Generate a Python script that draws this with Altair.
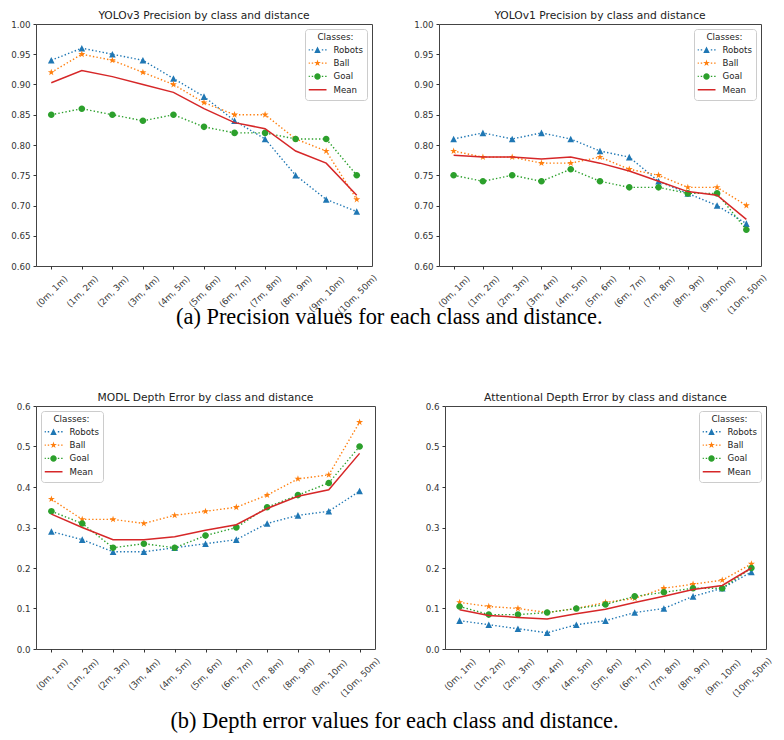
import altair as alt
import pandas as pd

categories = ["(0m, 1m)", "(1m, 2m)", "(2m, 3m)", "(3m, 4m)", "(4m, 5m)", "(5m, 6m)",
              "(6m, 7m)", "(7m, 8m)", "(8m, 9m)", "(9m, 10m)", "(10m, 50m)"]
series = ["Robots", "Ball", "Goal", "Mean"]
colors = ["#1f77b4", "#ff7f0e", "#2ca02c", "#d62728"]

# YOLOv3 precision
v3_robots = [0.94, 0.96, 0.95, 0.94, 0.91, 0.88, 0.84, 0.81, 0.75, 0.71, 0.69]
v3_ball = [0.92, 0.95, 0.94, 0.92, 0.90, 0.87, 0.85, 0.85, 0.81, 0.79, 0.71]
v3_goal = [0.85, 0.86, 0.85, 0.84, 0.85, 0.83, 0.82, 0.82, 0.81, 0.81, 0.75]
v3_mean = [0.903, 0.923, 0.913, 0.900, 0.887, 0.860, 0.837, 0.827, 0.790, 0.770, 0.717]

# YOLOv1 precision
v1_robots = [0.81, 0.82, 0.81, 0.82, 0.81, 0.79, 0.78, 0.74, 0.72, 0.70, 0.67]
v1_ball = [0.79, 0.78, 0.78, 0.77, 0.77, 0.78, 0.76, 0.75, 0.73, 0.73, 0.70]
v1_goal = [0.75, 0.74, 0.75, 0.74, 0.76, 0.74, 0.73, 0.73, 0.72, 0.72, 0.66]
v1_mean = [0.783, 0.780, 0.780, 0.777, 0.780, 0.770, 0.757, 0.740, 0.723, 0.717, 0.677]

# MODL depth error
modl_robots = [0.29, 0.27, 0.24, 0.24, 0.25, 0.26, 0.27, 0.31, 0.33, 0.34, 0.39]
modl_ball = [0.37, 0.32, 0.32, 0.31, 0.33, 0.34, 0.35, 0.38, 0.42, 0.43, 0.56]
modl_goal = [0.34, 0.31, 0.25, 0.26, 0.25, 0.28, 0.30, 0.35, 0.38, 0.41, 0.50]
modl_mean = [0.333, 0.300, 0.270, 0.270, 0.277, 0.293, 0.307, 0.347, 0.377, 0.393, 0.483]

# Attentional depth error
att_robots = [0.07, 0.06, 0.05, 0.04, 0.06, 0.07, 0.09, 0.10, 0.13, 0.15, 0.19]
att_ball = [0.115, 0.105, 0.10, 0.09, 0.10, 0.115, 0.125, 0.15, 0.16, 0.17, 0.21]
att_goal = [0.105, 0.085, 0.085, 0.09, 0.10, 0.11, 0.13, 0.14, 0.15, 0.15, 0.20]
att_mean = [0.097, 0.083, 0.078, 0.074, 0.087, 0.098, 0.115, 0.130, 0.147, 0.157, 0.200]

prec_ticks = [0.60, 0.65, 0.70, 0.75, 0.80, 0.85, 0.90, 0.95, 1.00]
depth_ticks = [0.0, 0.1, 0.2, 0.3, 0.4, 0.5, 0.6]

titles = ["YOLOv3 Precision by class and distance", "YOLOv1 Precision by class and distance",
          "MODL Depth Error by class and distance", "Attentional Depth Error by class and distance"]
captions = ["(a) Precision values for each class and distance.",
            "(b) Depth error values for each class and distance."]

FONT = "DejaVu Sans"


# ---- marker shapes (unit box [-1, 1]) ----
def tri(s):
    return f"M0,{-s}L{s},{s}L{-s},{s}Z"


def star(s):
    pts = [(0, -1), (0.2245, -0.309), (0.951, -0.309), (0.363, 0.118), (0.588, 0.809),
           (0, 0.382), (-0.588, 0.809), (-0.363, 0.118), (-0.951, -0.309), (-0.2245, -0.309)]
    return "M" + "L".join(f"{x * s:.3f},{y * s:.3f}" for x, y in pts) + "Z"


def circ(s):
    return f"M{-s},0A{s},{s} 0 1,1 {s},0A{s},{s} 0 1,1 {-s},0Z"


def dots():
    t = 0.075
    out = ""
    for cx in (-0.93, -0.56, 0.56, 0.93):
        out += f"M{cx - 0.08:.3f},{-t}H{cx + 0.08:.3f}V{t}H{cx - 0.08:.3f}Z"
    return out


marker_paths = [tri(1), star(1.1), circ(1)]
legend_paths = [dots() + tri(0.36), dots() + star(0.40), dots() + circ(0.36),
                "M-1,-0.08H1V0.08H-1Z"]


def long_df(vals):
    rows = []
    for s, arr in zip(series, vals):
        for i, c in enumerate(categories):
            rows.append({"dist": c, "series": s, "value": arr[i], "idx": i})
    return pd.DataFrame(rows)


def panel(vals, title, ydomain, yticks, yfmt, legend_orient, w, h):
    df = long_df(vals)
    base = alt.Chart(df)
    x = alt.X("dist:N", sort=categories, title=None,
              scale=alt.Scale(padding=0.5),
              axis=alt.Axis(labelAngle=-45, labelAlign="center", labelBaseline="middle",
                            labelPadding={"condition": {"test": "length(datum.label) >= 9", "value": 25},
                                          "value": 22},
                            labelOverlap=False, labelBound=False, labelFlush=False,
                            labelFont=FONT, labelFontSize=8.7, labelColor="#333",
                            tickSize=3, tickColor="#333", domain=False, grid=False))
    y = alt.Y("value:Q", title=None,
              scale=alt.Scale(domain=ydomain, nice=False, zero=False),
              axis=alt.Axis(values=yticks, format=yfmt, labelFont=FONT, labelFontSize=8.7,
                            labelColor="#333", labelPadding=3, tickSize=3, tickColor="#333",
                            domain=False, grid=False))
    layers = []
    for s, path, c in zip(series[:3], marker_paths, colors[:3]):
        sub = base.transform_filter(alt.datum.series == s)
        layers.append(sub.mark_line(strokeDash=[1.4, 2.2], strokeWidth=1.4, color=c).encode(
            x=x, y=y, order="idx:Q"))
        layers.append(sub.mark_point(shape=path, filled=True, size=44, opacity=1,
                                     strokeWidth=0, color=c).encode(x=x, y=y))
    layers.append(base.transform_filter(alt.datum.series == "Mean").mark_line(
        strokeWidth=1.5, color=colors[3]).encode(x=x, y=y, order="idx:Q"))
    leg = dict(title="Classes:", orient=legend_orient, offset=5, padding=3.5,
               strokeColor="#cccccc", cornerRadius=3, fillColor="white",
               titleFont=FONT, titleFontSize=8.8, titleFontWeight="normal", titleColor="#222",
               titleAnchor="middle", titlePadding=2.5,
               labelFont=FONT, labelFontSize=8.6, labelColor="#222", labelOffset=7,
               symbolSize=324, symbolStrokeWidth=0, symbolOpacity=1,
               clipHeight=12, rowPadding=1.3)
    layers.append(base.mark_point(filled=True, opacity=0, size=10).encode(
        x=x, y=y,
        color=alt.Color("series:N", scale=alt.Scale(domain=series, range=colors),
                        legend=alt.Legend(**leg)),
        shape=alt.Shape("series:N", scale=alt.Scale(domain=series, range=legend_paths),
                        legend=alt.Legend(**leg))))
    return alt.layer(*layers).properties(
        width=w, height=h,
        title=alt.TitleParams(title, font=FONT, fontSize=10.7, fontWeight="normal",
                              color="#222", offset=-2, anchor="middle"))


p1 = panel([v3_robots, v3_ball, v3_goal, v3_mean], titles[0], [0.6, 1.0], prec_ticks, ".2f", "top-right", 336, 242)
p2 = panel([v1_robots, v1_ball, v1_goal, v1_mean], titles[1], [0.6, 1.0], prec_ticks, ".2f", "top-right", 322, 242)
p3 = panel([modl_robots, modl_ball, modl_goal, modl_mean], titles[2], [0.0, 0.6], depth_ticks, ".1f", "top-left", 339, 243)
p4 = panel([att_robots, att_ball, att_goal, att_mean], titles[3], [0.0, 0.6], depth_ticks, ".1f", "top-right", 321, 243)


def cap(text, off):
    return alt.TitleParams(text, orient="bottom", font="Liberation Serif", fontSize=22.4,
                           fontWeight="normal", color="black", offset=off, anchor="middle")


row_a = alt.hconcat(p1, p2, spacing=34, title=cap(captions[0], -10)).resolve_legend(
    color="independent", shape="independent")
row_b = alt.hconcat(p3, p4, spacing=42, title=cap(captions[1], 11)).resolve_legend(
    color="independent", shape="independent")

chart = alt.vconcat(row_a, row_b, spacing=62).resolve_legend(
    color="independent", shape="independent").properties(
    padding={"left": 2, "top": 1, "right": 0, "bottom": 0}
).configure_view(stroke="#444", strokeWidth=1)

chart.save("out.html", embed_options={"renderer": "svg", "actions": False})
